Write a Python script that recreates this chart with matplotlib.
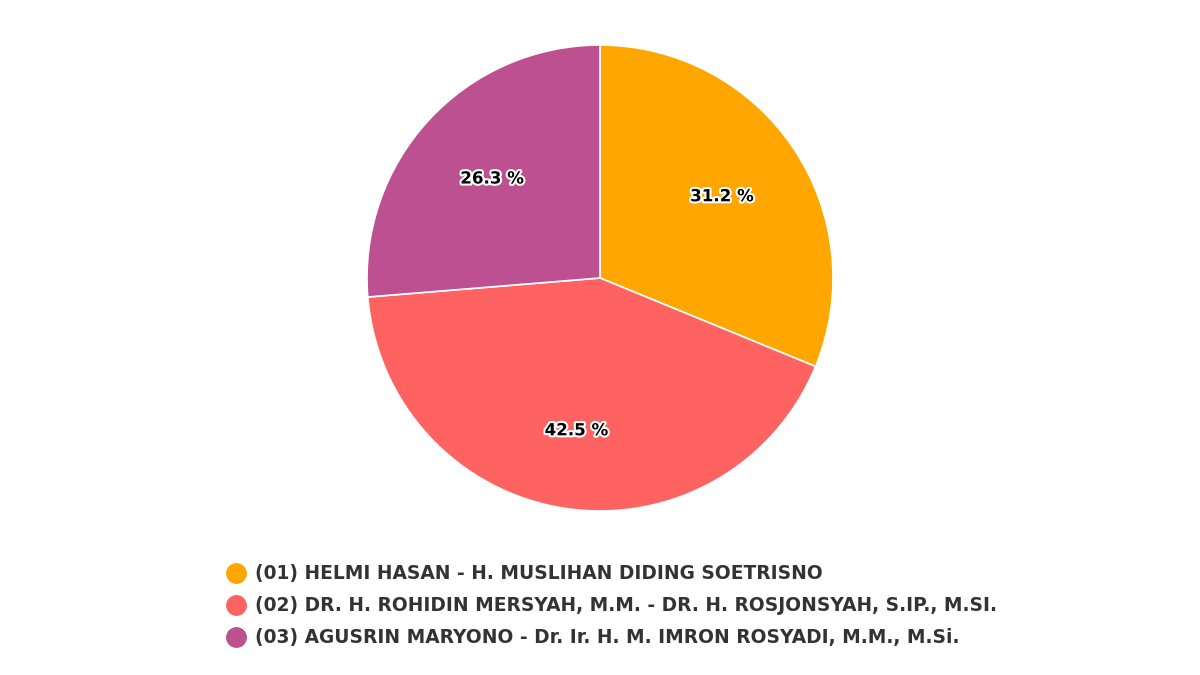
import matplotlib.pyplot as plt
import matplotlib.patheffects as pe
from matplotlib.lines import Line2D

# Data
candidates = [
    "(01) HELMI HASAN - H. MUSLIHAN DIDING SOETRISNO",
    "(02) DR. H. ROHIDIN MERSYAH, M.M. - DR. H. ROSJONSYAH, S.IP., M.SI.",
    "(03) AGUSRIN MARYONO - Dr. Ir. H. M. IMRON ROSYADI, M.M., M.Si.",
]
shares = [31.2, 42.5, 26.3]
colors = ["#ffa600", "#ff6361", "#bc5090"]

fig = plt.figure(figsize=(12, 6.75), dpi=100)
fig.patch.set_facecolor("white")

# pie centred at (600, 278) px, radius ~233 px
ax = fig.add_axes([367 / 1200, (675 - 511) / 675, 466 / 1200, 466 / 675])
wedges, texts, autotexts = ax.pie(
    shares,
    colors=colors,
    startangle=90,
    counterclock=False,
    radius=1.0,
    autopct=lambda p: f"{p:.1f} %",
    pctdistance=0.63,
    wedgeprops=dict(edgecolor="white", linewidth=1.2),
)
for t in autotexts:
    t.set_color("black")
    t.set_fontsize(12)
    t.set_fontweight("bold")
    t.set_path_effects([pe.withStroke(linewidth=3, foreground="white")])
# the big slice's label sits a bit further out in the original
x, y = autotexts[1].get_position()
autotexts[1].set_position((x * 1.05, y * 1.05))

ax.set_xlim(-1, 1)
ax.set_ylim(-1, 1)
ax.set_aspect("equal")
ax.axis("off")

handles = [
    Line2D([], [], marker="o", linestyle="none", markersize=14,
           markerfacecolor=c, markeredgecolor=c)
    for c in colors
]
leg = fig.legend(
    handles, candidates,
    loc="upper left",
    bbox_to_anchor=(218 / 1200, 1 - 557 / 675),
    frameon=False,
    fontsize=13.4,
    handletextpad=0.5,
    labelspacing=0.7,
    handlelength=1.1,
    borderaxespad=0,
)
for t in leg.get_texts():
    t.set_color("#333333")
    t.set_fontweight("bold")

fig.savefig("out.png", dpi=100, facecolor="white")
